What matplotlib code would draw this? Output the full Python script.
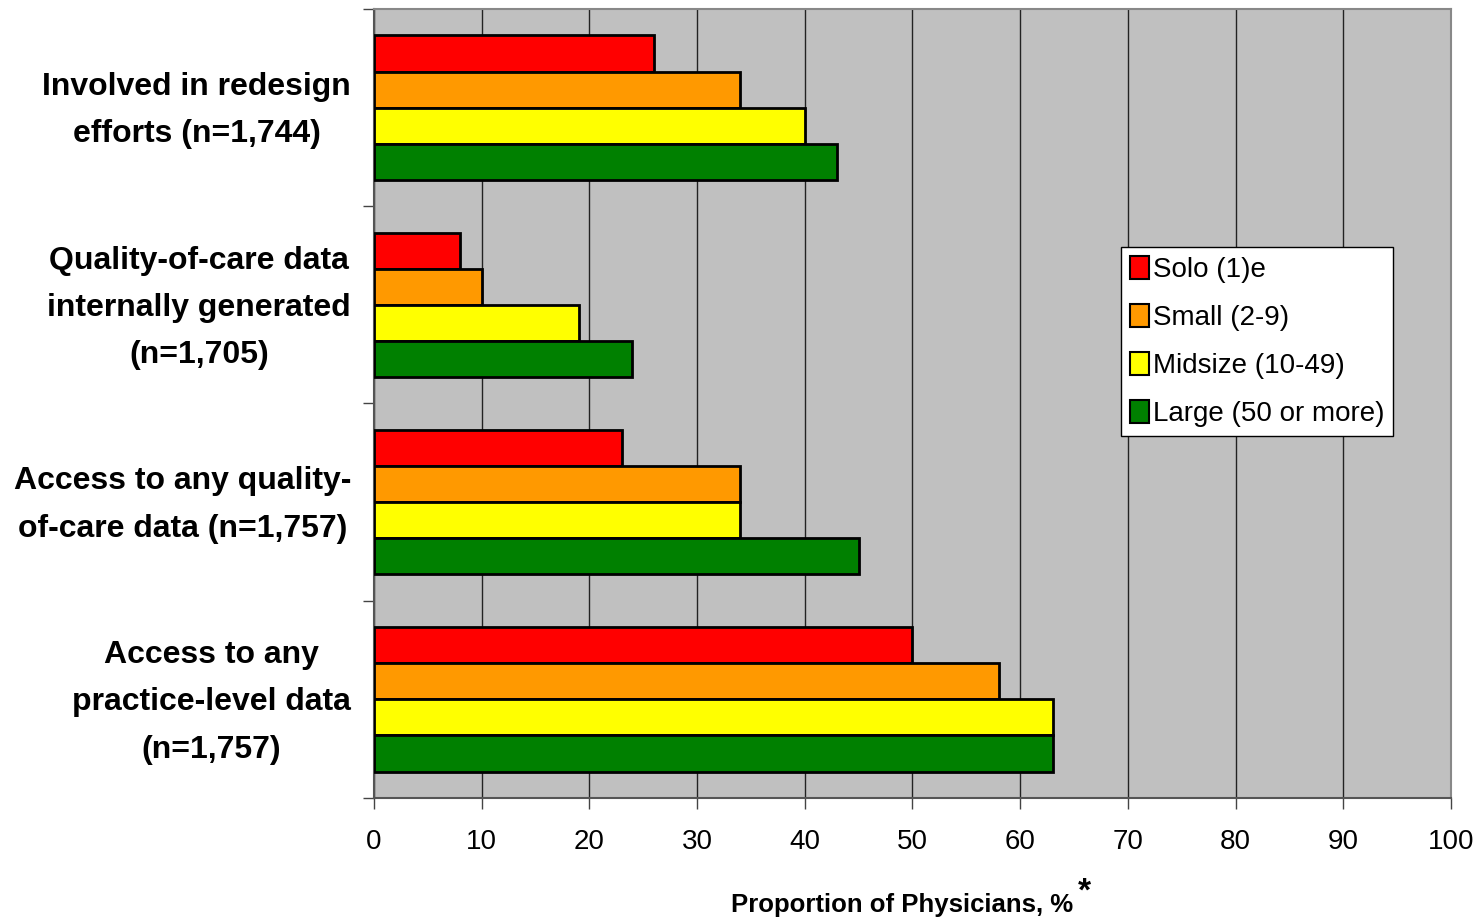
import matplotlib.pyplot as plt
import numpy as np
from matplotlib.transforms import ScaledTranslation

# Practice participation by practice size
categories = [
    "Involved in redesign\nefforts (n=1,744)",
    "Quality-of-care data\ninternally generated\n(n=1,705)",
    "Access to any quality-\nof-care data (n=1,757)",
    "Access to any\npractice-level data\n(n=1,757)",
]
series_names = ["Solo (1)e", "Small (2-9)", "Midsize (10-49)", "Large (50 or more)"]
solo = [26, 8, 23, 50]
small = [34, 10, 34, 58]
midsize = [40, 19, 34, 63]
large = [43, 24, 45, 63]
colors = ["#FF0000", "#FF9900", "#FFFF00", "#008000"]

plt.rcParams['font.family'] = ['Liberation Sans', 'DejaVu Sans']

fig = plt.figure(figsize=(14.8, 9.22), dpi=100)
ax = fig.add_axes([374 / 1480, 1 - 798 / 922, (1451 - 374) / 1480, (798 - 9) / 922])
ax.set_facecolor("#C0C0C0")

values = [solo, small, midsize, large]
n = len(categories)
ypos = np.arange(n)  # 0 at top after inversion
bar_h = 0.183
for i, (vals, name, c) in enumerate(zip(values, series_names, colors)):
    offs = (i - 1.5) * bar_h
    ax.barh(ypos + offs, vals, height=bar_h, color=c, edgecolor="black",
            linewidth=2, label=name, zorder=3)

ax.set_xlim(0, 100)
ax.set_ylim(n - 0.5, -0.5)

# grid
ax.set_xticks(np.arange(0, 101, 10))
ax.xaxis.grid(True, color="#222222", linewidth=1.0, zorder=1)
ax.set_axisbelow(True)
ax.tick_params(axis='x', which='major', length=8, width=1, color="#444444",
               labelsize=20, pad=14)

# tick marks at the category boundaries only
ax.set_yticks(np.arange(-0.5, n, 1))
ax.set_yticklabels([])
ax.tick_params(axis='y', length=8, width=1, color="#444444")

# category labels, right-aligned block with centred lines
label_tf = ax.get_yaxis_transform() + ScaledTranslation(-23 / 100, -3 / 100, fig.dpi_scale_trans)
for y, txt in zip(ypos, categories):
    ax.text(0, y, txt, transform=label_tf, fontsize=23, fontweight='bold',
            ha='right', va='center', multialignment='center', linespacing=1.75)

for side in ['left', 'bottom']:
    ax.spines[side].set_color("#555555")
    ax.spines[side].set_linewidth(1.5)
for side in ['top', 'right']:
    ax.spines[side].set_color("#888888")
    ax.spines[side].set_linewidth(1.5)

ax.set_xlabel("Proportion of Physicians, %", fontsize=18.5, fontweight='bold')
ax.xaxis.set_label_coords(0.490, -0.1204)

leg = ax.legend(loc='upper left', bbox_to_anchor=(0.694, 0.698), fontsize=20,
                frameon=True, fancybox=False, edgecolor="black",
                framealpha=1, handlelength=0.7, handleheight=0.9,
                handletextpad=0.15, borderpad=0.3, labelspacing=0.76,
                borderaxespad=0)
leg.get_frame().set_linewidth(1)
for h in leg.legend_handles:
    h.set_linewidth(1.5)

# raised asterisk after the axis title
fig.canvas.draw()
bb = ax.xaxis.label.get_window_extent()
fig.text((bb.x1 + 5) / fig.bbox.width, (bb.y1 + 1) / fig.bbox.height, "*",
         fontsize=24, fontweight='bold', ha='left', va='center')

fig.savefig("out.png", dpi=100)
